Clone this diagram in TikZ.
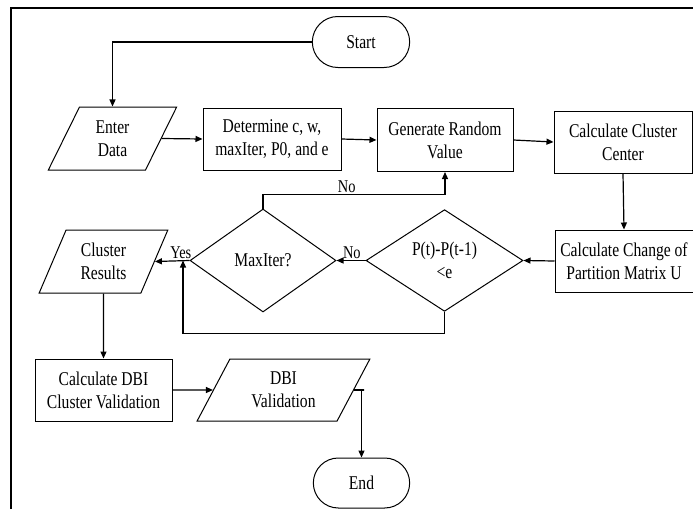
\documentclass[tikz,border=0pt]{standalone}
\usepackage{fontspec}
\setmainfont{Liberation Serif}[FakeStretch=0.8]
\usepackage{tikz}
\usetikzlibrary{arrows.meta,shapes.geometric,shapes.misc,positioning}
\tikzstyle{terminal} = [rounded rectangle, minimum width=104pt, minimum height=51pt, text centered, draw, line width=1pt]
\tikzstyle{process} = [rectangle, minimum width=138pt, minimum height=62pt, align=center, draw, line width=1pt, inner sep=2pt]
\tikzstyle{io} = [trapezium, trapezium left angle=66, trapezium right angle=114, trapezium stretches=true, minimum width=129pt, minimum height=63pt, align=center, draw, line width=1pt, inner sep=1pt]
\tikzstyle{decision} = [diamond, minimum width=157pt, minimum height=101pt, align=center, draw, line width=1pt, inner sep=0pt]
\tikzstyle{arrow} = [line width=1.2pt,->,>={Triangle[length=7pt,width=6pt]}]
\tikzstyle{lbl} = [font=\fontsize{18}{20}\selectfont, inner sep=1pt]

\begin{document}
\begin{tikzpicture}[x=1pt, y=-1pt, font=\fontsize{19.5}{23}\selectfont]
\useasboundingbox (0,0) rectangle (693,509);
% Frame
\draw[line width=2pt] (11,509) -- (11,8) -- (693,8);

% Top row
\node (start) [terminal] at (361,42) {Start};
\node (enter) [io] at (112.5,138.5) {Enter\\Data};
\node (determine) [process] at (272,139) {Determine c, w,\\maxIter, P0, and e};
\node (generate) [process, minimum width=136pt, minimum height=63pt] at (445,140) {Generate Random\\Value};
\node (clcenter) [process] at (623,142) {Calculate Cluster\\Center};

% Middle row
\node (change) [process] at (624,261) {Calculate Change of\\Partition Matrix U};
\node (pdiam) [decision] at (444.5,260.5) {P(t)-P(t-1)\\<e};
\node (maxit) [decision, minimum width=146pt, minimum height=103pt] at (263,260.5) {MaxIter?};
\node (results) [io] at (103.5,261.5) {Cluster\\Results};
\coordinate (join) at (183,260.5);

% Bottom row
\node (dbi) [process, minimum width=137pt] at (103.5,390) {Calculate DBI\\Cluster Validation};
\node (dbival) [io, minimum width=173pt, minimum height=62pt, trapezium left angle=62, trapezium right angle=118] at (283.5,390) {DBI\\Validation};
\node (end) [terminal, minimum width=103pt, minimum height=50pt] at (361.5,483) {End};

% Arrows
\draw[arrow] (start.west) -| (enter.north);
\draw[arrow] (enter.east) -- (determine.west);
\draw[arrow] (determine.east) -- (generate.west);
\draw[arrow] (generate.east) -- (clcenter.west);
\draw[arrow] (clcenter.south) -- (change.north);
\draw[arrow] (change.west) -- (pdiam.east);
\draw[arrow] (pdiam.west) -- node[lbl, above, pos=0.47] {No} (maxit.east);
\draw[arrow] (maxit.north) -- ++(0,-14) -| node[lbl, above, pos=0.23] {No} (generate.south);
\draw[arrow] (maxit.west) -- node[lbl, above, pos=0.25] {Yes} (results.east);
\draw[arrow] (pdiam.south) -- ++(0,22) -| (join);
\draw[arrow] (results.south) -- (dbi.north);
\draw[arrow] (dbi.east) -- (dbival.west);
\draw[arrow] (dbival.east) -- ++(10,0) -| (end.north);
\end{tikzpicture}
\end{document}
